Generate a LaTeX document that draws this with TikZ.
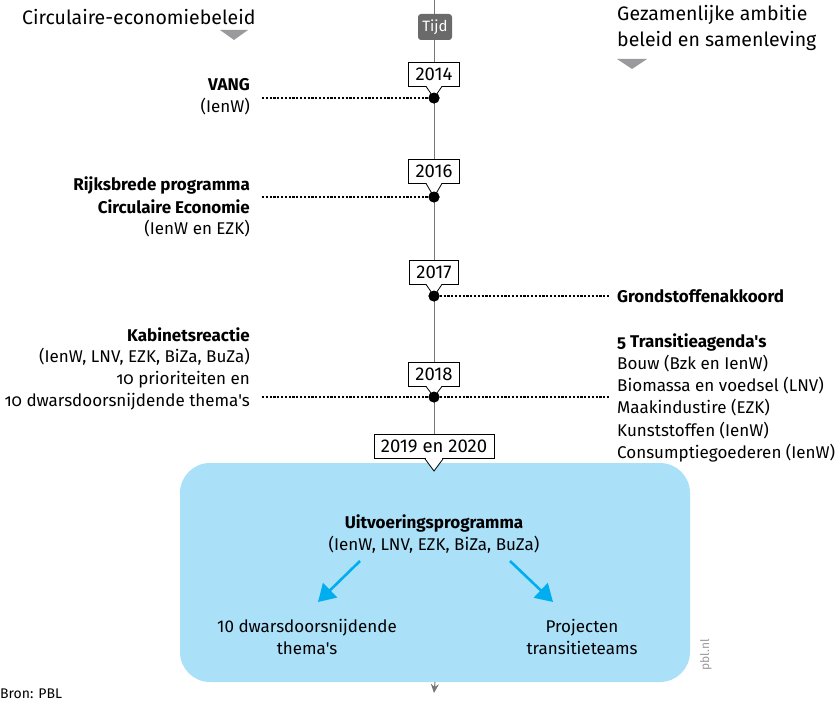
\documentclass[tikz,border=0pt]{standalone}
\usepackage{fontspec}
\setmainfont{Fira Sans}[Ligatures=TeXOff]
\usetikzlibrary{arrows.meta}
\definecolor{linegray}{HTML}{777777}
\definecolor{tijdgray}{HTML}{6A6A6A}
\definecolor{lightblue}{HTML}{ABE0F9}
\definecolor{arrowblue}{HTML}{00AEEF}
\definecolor{trigray}{HTML}{9A9A9C}
\tikzset{
  txt/.style={font=\fontsize{17}{22}\selectfont, inner sep=0pt},
  hdr/.style={font=\fontsize{19.5}{26}\selectfont\addfontfeatures{Weight=Light}, inner sep=0pt},
  yearbox/.style={draw=black, fill=white, line width=0.8pt, font=\fontsize{18.5}{19}\selectfont, minimum height=24pt, inner xsep=7pt, inner ysep=0pt},
  evdot/.style={circle, fill=black, inner sep=0pt, minimum size=11pt},
  dotline/.style={dash pattern=on 2.2pt off 1.6pt, line width=1.2pt, black},
  bluearrow/.style={arrowblue, line width=2.6pt, -{Triangle[length=17pt,width=20pt]}},
}
\newcommand{\yearmark}[4]{% name, y-box-center, y-dot, label
  \node[yearbox] (#1) at (434,#2) {#4};
  \node[evdot] (#1d) at (434,#3) {};
  \fill[white] ([xshift=-8pt]#1.south) -- (434,#3) -- ([xshift=8pt]#1.south) -- cycle;
  \draw[black, line width=0.8pt] ([xshift=-8pt]#1.south) -- (#1d.center) -- ([xshift=8pt]#1.south);
  \draw[white, line width=1.4pt] ([xshift=-7.2pt]#1.south) -- ([xshift=7.2pt]#1.south);
  \node[evdot] at (434,#3) {};
}
\begin{document}
\begin{tikzpicture}[x=1pt,y=-1pt]
\useasboundingbox (0,0) rectangle (837,703);
% timeline (upper part)
\coordinate (top) at (434,0);
\coordinate (bot) at (434,693);
\coordinate (mid) at (434,470);
\draw[linegray, line width=1pt] (top) -- (mid);
% blue box
\node[fill=lightblue, rounded corners=30pt, minimum width=510pt, minimum height=219pt, inner sep=0pt] (prog) at (435,572.5) {};
\draw[linegray, line width=1pt, -{Stealth[length=9pt,width=8pt]}] (prog.south) -- (bot);
% Tijd
\node[fill=tijdgray, rounded corners=3pt, text=white, font=\fontsize{15}{17}\selectfont, minimum width=34pt, minimum height=26pt, inner sep=0pt] (tijd) at (435,27) {Tijd};
% headers
\node[hdr, anchor=west] (hl) at (22,17) {Circulaire-economiebeleid};
\fill[trigray] (220,30) -- (248,30) -- (234,40) -- cycle;
\node[hdr, anchor=north west, align=left] (hr) at (617,5) {Gezamenlijke ambitie\\beleid en samenleving};
\fill[trigray] (617,59) -- (647,59) -- (632,69) -- cycle;

% year boxes with pointers
\yearmark{y14}{74}{98}{2014}
\yearmark{y16}{171}{197}{2016}
\yearmark{y17}{272}{296}{2017}
\yearmark{y18}{374}{397}{2018}

% 2019 en 2020
\node[yearbox] (y19) at (434,446.5) {2019 en 2020};
\coordinate (y19p) at (434,471);
\fill[white] ([xshift=-9pt]y19.south) -- (y19p) -- ([xshift=9pt]y19.south) -- cycle;
\draw[black, line width=0.8pt] ([xshift=-9pt]y19.south) -- (y19p) -- ([xshift=9pt]y19.south);
\draw[white, line width=1.4pt] ([xshift=-8.2pt]y19.south) -- ([xshift=8.2pt]y19.south);

% dotted connectors
\coordinate (l14) at (262,98);
\coordinate (l16) at (262,197);
\coordinate (l18) at (262,397);
\coordinate (r17) at (610,296);
\coordinate (r18) at (610,397);
\draw[dotline] (l14) -- (y14d);
\draw[dotline] (l16) -- (y16d);
\draw[dotline] (l18) -- (y18d);
\draw[dotline] (y17d) -- (r17);
\draw[dotline] (y18d) -- (r18);

\node[txt, anchor=east] (vang) at (250,85) {\textbf{VANG}};
\node[txt, anchor=east] (vang2) at (250,107) {(IenW)};
\node[txt, anchor=east] (rb1) at (250,185) {\textbf{Rijksbrede programma}};
\node[txt, anchor=east] (rb2) at (250,207) {\textbf{Circulaire Economie}};
\node[txt, anchor=east] (rb3) at (250,229) {(IenW en EZK)};
\node[txt, anchor=west] (gsa) at (617,296) {\textbf{Grondstoffenakkoord}};
\node[txt, anchor=east] (k1) at (250,335) {\textbf{Kabinetsreactie}};
\node[txt, anchor=east] (k2) at (250,357) {(IenW, LNV, EZK, BiZa, BuZa)};
\node[txt, anchor=east] (k3) at (250,380) {\addfontfeatures{Numbers=OldStyle}10 prioriteiten en};
\node[txt, anchor=east] (k4) at (250,402) {\addfontfeatures{Numbers=OldStyle}10 dwarsdoorsnijdende thema's};
\node[txt, anchor=west] (t1) at (617,342) {\textbf{\addfontfeatures{Numbers=OldStyle}5 Transitieagenda's}};
\node[txt, anchor=west] (t2) at (617,364) {Bouw (Bzk en IenW)};
\node[txt, anchor=west] (t3) at (617,386) {Biomassa en voedsel (LNV)};
\node[txt, anchor=west] (t4) at (617,408) {Maakindustire (EZK)};
\node[txt, anchor=west] (t5) at (617,431) {Kunststoffen (IenW)};
\node[txt, anchor=west] (t6) at (617,453) {Consumptiegoederen (IenW)};

% programme content
\node[txt] (u1) at (434,523) {\textbf{Uitvoeringsprogramma}};
\node[txt] (u2) at (434,545) {(IenW, LNV, EZK, BiZa, BuZa)};
\node[txt, align=center] (dw) at (307,637) {10 dwarsdoorsnijdende\\thema's};
\node[txt, align=center] (pt) at (582,637) {Projecten\\transitieteams};
\coordinate (a1s) at (360,561);
\coordinate (a1e) at (318,602);
\coordinate (a2s) at (510,561);
\coordinate (a2e) at (553,602);
\draw[bluearrow] (a1s) -- (a1e);
\draw[bluearrow] (a2s) -- (a2e);

% pbl.nl
\node[txt, rotate=90, text=trigray, font=\fontsize{12}{14}\selectfont] (pbl) at (706,655) {pbl.nl};
% source
\node[txt, anchor=west, font=\fontsize{14}{16}\selectfont] (bron) at (0,694) {Bron: PBL};
\end{tikzpicture}
\end{document}
